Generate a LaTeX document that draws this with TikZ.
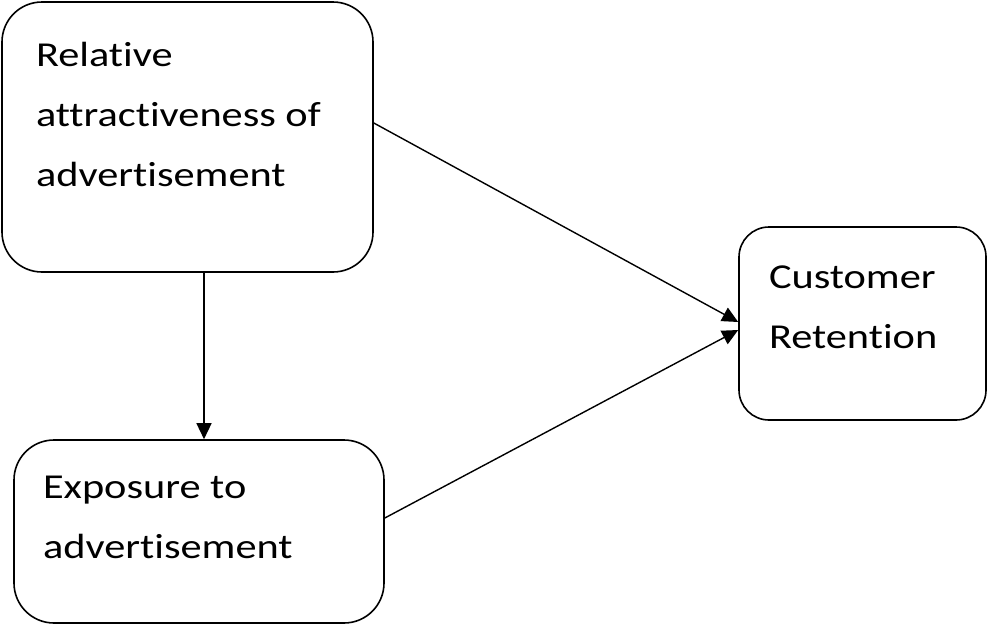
\documentclass[tikz,border=0pt]{standalone}
\usepackage{fontspec}
\setmainfont{Carlito}[FakeStretch=1.21, Ligatures=CommonOff]
\usetikzlibrary{arrows.meta}

% text set from the top left of a box: width, height, left pad, first baseline, lines
\newcommand{\boxtxt}[5]{\parbox[c][#2][t]{#1}{\fontsize{35}{60}\selectfont\leftskip=#3\rule{0pt}{#4}#5}}

\begin{document}
\begin{tikzpicture}[x=1pt, y=-1pt, line width=1.6pt,
  block/.style={draw, rounded corners=40pt, inner sep=0pt},
  arr/.style={-{Triangle[length=16pt,width=15pt]}, line width=1.4pt}]
\useasboundingbox (0,0) rectangle (987,624);
\node[block] (attract) at (187.5,137) {\boxtxt{371pt}{270pt}{34pt}{64pt}{Relative\\attractiveness of\\advertisement}};
\node[block] (expose) at (199,531.5) {\boxtxt{370pt}{183pt}{29pt}{58pt}{Exposure to\\advertisement}};
\node[block, rounded corners=30pt] (retain) at (862.5,323.5) {\boxtxt{247pt}{193pt}{30pt}{61pt}{Customer\\Retention}};
\draw[arr] ([xshift=16.5pt]attract.south) -- ([xshift=5pt]expose.north);
\draw[arr] ([yshift=14pt]attract.east) -- ([yshift=1.5pt]retain.west);
\draw[arr] ([yshift=13.5pt]expose.east) -- ([yshift=-6.5pt]retain.west);
\end{tikzpicture}
\end{document}
